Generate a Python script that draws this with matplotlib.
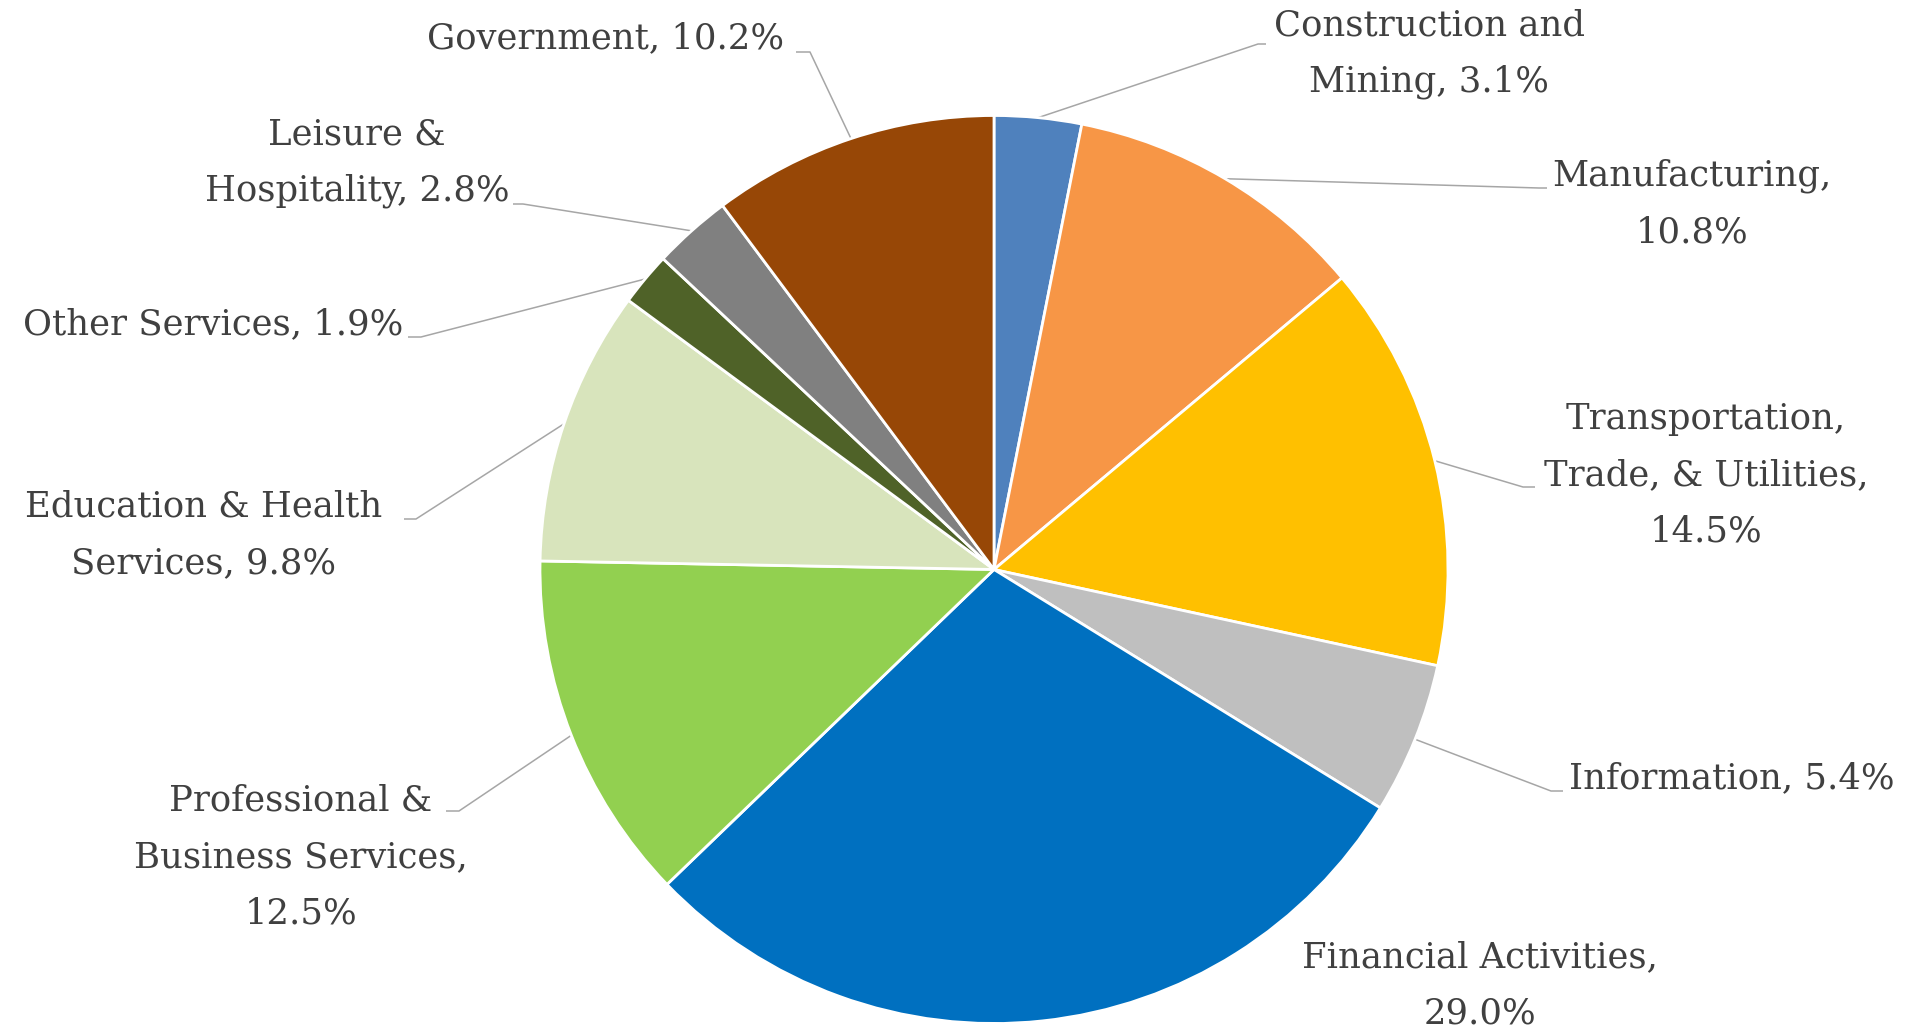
import numpy as np
import matplotlib
matplotlib.use('Agg')
import matplotlib.pyplot as plt

# 各產業占比 (%)
sectors = ['Construction and Mining', 'Manufacturing', 'Transportation, Trade, & Utilities',
           'Information', 'Financial Activities', 'Professional & Business Services',
           'Education & Health Services', 'Other Services', 'Leisure & Hospitality', 'Government']
shares = [3.1, 10.8, 14.5, 5.4, 29.0, 12.5, 9.8, 1.9, 2.8, 10.2]
colors = ['#4F81BD', '#F79646', '#FFC000', '#BFBFBF', '#0070C0',
          '#92D050', '#D8E4BC', '#4F6228', '#808080', '#974706']

# 標籤文字 (換行位置)
label_fmt = ['Construction and\nMining, {:.1f}%',
             'Manufacturing,\n{:.1f}%',
             'Transportation,\nTrade, & Utilities,\n{:.1f}%',
             'Information, {:.1f}%',
             'Financial Activities,\n{:.1f}%',
             'Professional &\nBusiness Services,\n{:.1f}%',
             'Education & Health\nServices, {:.1f}%',
             'Other Services, {:.1f}%',
             'Leisure &\nHospitality, {:.1f}%',
             'Government, {:.1f}%']

W, H = 1918, 1032
cx, cy, r = 994, H - 569.5, 454

# 標籤位置 (圖片像素, 文字中心) 與引線折點
text_pos = [(1429, 54), (1692, 204), (1706, 475), (1732, 778), (1480, 985),
            (301, 857), (204, 535), (213, 324), (357, 163), (606, 38)]
elbow_pos = [(1258, 44), (1539, 188), (1523, 487), (1551, 791), None,
             (459, 811), (416, 519), (421, 337), (523, 204), (810, 52)]
end_pos = [(1266, 44), (1547, 188), (1535, 487), (1563, 791), None,
           (446, 811), (404, 519), (408, 337), (513, 204), (796, 52)]

fig = plt.figure(figsize=(W / 100, H / 100), dpi=100)
ax = fig.add_axes([0, 0, 1, 1])

wedges, _ = ax.pie(shares, colors=colors, startangle=90, counterclock=False,
                   center=(cx, cy), radius=r,
                   wedgeprops=dict(edgecolor='white', linewidth=2))

for i, w in enumerate(wedges):
    mid = np.deg2rad((w.theta1 + w.theta2) / 2)
    ex, ey = cx + r * np.cos(mid), cy + r * np.sin(mid)
    if elbow_pos[i] is not None:
        bx, by = elbow_pos[i]
        qx, qy = end_pos[i]
        ax.plot([ex, bx, qx], [ey, H - by, H - qy], color='#A6A6A6', lw=1.1,
                solid_capstyle='butt', zorder=0)
    tx, ty = text_pos[i]
    ax.text(tx, H - ty, label_fmt[i].format(shares[i]), ha='center', va='center',
            multialignment='center', fontsize=25.5, color='#404040',
            family=['DejaVu Serif'], linespacing=1.83)

ax.set_xlim(0, W)
ax.set_ylim(0, H)
ax.set_aspect('equal')
ax.axis('off')

plt.savefig('out.png', dpi=100)
